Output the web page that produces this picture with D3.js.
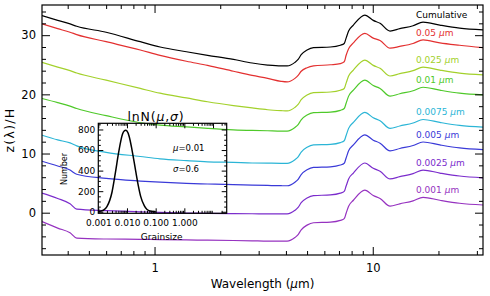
<!DOCTYPE html>
<html>
<head>
<meta charset="utf-8">
<script src="https://cdn.jsdelivr.net/npm/d3@7"></script>
<style>
  body { margin: 0; background: #fff; }
  text { font-family: "DejaVu Sans", sans-serif; fill: #000; }
  .axis line { stroke: #000; stroke-width: 1; }
  .axis .domain { display: none; }
</style>
</head>
<body>
<svg id="chart" width="490" height="296"></svg>
<script>
// wavelength grid (micron)
var wavelength = [0.305, 0.36, 0.41, 0.44, 0.6, 0.86, 1.06, 1.4, 1.75, 2.3, 2.8, 3.3, 3.8,
  4.05, 4.4, 4.55, 4.7, 5.0, 5.35, 6.4, 7.1, 7.4, 7.55, 7.75, 8.15, 9.2, 10.05, 10.8,
  12.0, 13.3, 15.3, 17.0, 20.3, 25, 32];

// z(lambda)/H per grain size (curves are offset)
var cumulative = [33.3, 32.5, 31.9, 31.5, 30.5, 28.9, 28.0, 27.2, 26.6, 25.9, 25.3, 24.95, 24.8,
  24.8, 25.4, 25.9, 26.7, 27.5, 27.9, 28.0, 28.3, 28.6, 29.5, 30.7, 31.7, 33.4, 32.5, 32.0,
  30.7, 31.1, 31.6, 32.2, 31.7, 31.2, 30.9];
var size050 = [31.9, 31.1, 30.5, 30.1, 28.9, 27.5, 26.6, 25.6, 24.9, 23.9, 23.2, 22.7, 22.2,
  22.1, 22.7, 23.2, 23.9, 24.5, 24.8, 25.0, 25.2, 25.5, 26.6, 27.7, 28.7, 30.3, 29.5, 29.1,
  27.8, 28.1, 28.6, 29.2, 28.7, 28.3, 27.9];
var size025 = [25.4, 24.6, 24.0, 23.6, 22.4, 21.0, 20.2, 19.4, 18.75, 18.1, 17.7, 17.4, 17.25,
  17.2, 17.8, 18.3, 19.1, 19.9, 20.3, 20.4, 20.7, 21.0, 21.9, 23.1, 24.1, 25.8, 24.9, 24.4,
  23.1, 23.5, 24.0, 24.6, 24.1, 23.6, 23.3];
var size010 = [19.3, 18.6, 18.0, 17.6, 16.4, 15.2, 14.8, 14.5, 14.25, 14.0, 13.9, 13.85, 13.8,
  13.8, 14.4, 14.9, 15.7, 16.5, 16.9, 17.0, 17.3, 17.6, 18.5, 19.7, 20.7, 22.4, 21.5, 21.0,
  19.7, 20.1, 20.6, 21.2, 20.7, 20.2, 19.9];
var size0075 = [13.1, 12.3, 11.8, 11.3, 10.2, 9.5, 9.1, 8.8, 8.6, 8.5, 8.4, 8.37, 8.35,
  8.35, 8.95, 9.45, 10.25, 11.05, 11.45, 11.55, 11.85, 12.15, 13.05, 14.25, 15.25, 16.95, 16.05, 15.55,
  14.25, 14.65, 15.15, 15.75, 15.25, 14.75, 14.45];
var size005 = [8.7, 7.9, 7.2, 6.5, 5.8, 5.35, 5.15, 4.95, 4.85, 4.75, 4.65, 4.6, 4.56,
  4.55, 5.15, 5.65, 6.45, 7.25, 7.65, 7.75, 8.05, 8.35, 9.25, 10.45, 11.45, 13.15, 12.25, 11.75,
  10.45, 10.85, 11.35, 11.95, 11.45, 10.95, 10.65];
var size0025 = [3.3, 2.4, 1.5, 0.6, 0.35, 0.15, 0.05, -0.05, -0.1, -0.15, -0.18, -0.2, -0.2,
  -0.2, 0.4, 0.9, 1.7, 2.5, 2.9, 3.0, 3.3, 3.6, 4.5, 5.7, 6.7, 8.4, 7.5, 7.0,
  5.7, 6.1, 6.6, 7.2, 6.7, 6.2, 5.9];
var size001 = [-1.5, -2.6, -3.4, -4.3, -4.45, -4.5, -4.55, -4.6, -4.65, -4.7, -4.75, -4.8, -4.8,
  -4.8, -4.2, -3.7, -2.9, -2.1, -1.7, -1.6, -1.3, -1.0, -0.1, 1.1, 2.1, 3.8, 2.9, 2.4,
  1.1, 1.5, 2.0, 2.6, 2.1, 1.6, 1.3];

var seriesLabels = ['Cumulative', '0.05', '0.025', '0.01', '0.0075', '0.005', '0.0025', '0.001'];
var seriesColors = ['#000000', '#e33030', '#a3d12c', '#4fc92a', '#2bb5d6', '#3a3ad8', '#7b2ccc', '#9632c0'];

// inset: log-normal grain size distribution
var grainsize = [0.001, 0.0015, 0.002, 0.003, 0.004, 0.005, 0.006, 0.007, 0.008, 0.009, 0.010,
  0.012, 0.015, 0.02, 0.025, 0.03, 0.04, 0.05, 0.07, 0.1];
var number = [3, 15, 50, 190, 390, 560, 680, 755, 785, 792, 785, 730, 600, 400, 250, 150, 60, 22, 4, 0];

var xTicks = [1, 10];
var yTicks = [0, 10, 20, 30];
var insetXTicks = [0.001, 0.01, 0.1, 1];
var insetYTicks = [0, 200, 400, 600, 800];

var svg = d3.select('#chart');
svg.append('rect').attr('width', 490).attr('height', 296).attr('fill', '#fff');

var x = d3.scaleLog().domain([0.305, 32]).range([42, 483]);
var y = d3.scaleLinear().domain([-7.15, 35.1]).range([255, 5]);

var xMinor = [];
[0.1, 1, 10].forEach(function(d) {
  for (var i = 2; i <= 9; i++) xMinor.push(d * i);
});
xMinor = xMinor.filter(function(v) { return v > 0.305 && v < 32; });
var yMinor = d3.range(-6, 36, 2).filter(function(v) { return v % 10 !== 0; });

svg.append('defs').append('clipPath').attr('id', 'plot-clip')
  .append('rect').attr('x', 42).attr('y', 5).attr('width', 441).attr('height', 250);

//curves
var series = [cumulative, size050, size025, size010, size0075, size005, size0025, size001];
var line = d3.line()
  .x(function(d) { return x(d[0]); })
  .y(function(d) { return y(d[1]); })
  .curve(d3.curveMonotoneX);

svg.append('g')
  .attr('clip-path', 'url(#plot-clip)')
  .selectAll('path')
  .data(series)
  .enter().append('path')
    .attr('fill', 'none')
    .attr('stroke', function(d, i) { return seriesColors[i]; })
    .attr('stroke-width', 1.2)
    .attr('d', function(d) { return line(d3.zip(wavelength, d)); });

//labels next to the curves
svg.append('g')
  .selectAll('text')
  .data(series)
  .enter().append('text')
    .attr('x', 416)
    .attr('y', function(d) { return y(d[d.length - 1]) - 15; })
    .attr('dominant-baseline', 'central')
    .style('font-size', '9px')
    .style('fill', function(d, i) { return seriesColors[i]; })
    .each(function(d, i) {
      var t = d3.select(this);
      if (i === 0) { t.text(seriesLabels[i]); return; }
      t.append('tspan').text(seriesLabels[i] + ' ');
      t.append('tspan').style('font-style', 'italic').text('\u03bc');
      t.append('tspan').text('m');
    });

//axes, ticks pointing inward
svg.append('g').attr('class', 'axis').attr('transform', 'translate(0,255)')
  .call(d3.axisBottom(x).tickValues(xTicks).tickSize(-8).tickPadding(9).tickFormat(d3.format('d')))
  .call(function(g) { g.selectAll('text').style('font-size', '11.5px'); });
svg.append('g').attr('class', 'axis').attr('transform', 'translate(0,255)')
  .call(d3.axisBottom(x).tickValues(xMinor).tickSize(-4).tickFormat(''));
svg.append('g').attr('class', 'axis').attr('transform', 'translate(0,5)')
  .call(d3.axisTop(x).tickValues(xTicks).tickSize(-8).tickFormat(''));
svg.append('g').attr('class', 'axis').attr('transform', 'translate(0,5)')
  .call(d3.axisTop(x).tickValues(xMinor).tickSize(-4).tickFormat(''));

svg.append('g').attr('class', 'axis').attr('transform', 'translate(42,0)')
  .call(d3.axisLeft(y).tickValues(yTicks).tickSize(-8).tickPadding(6))
  .call(function(g) { g.selectAll('text').style('font-size', '11.5px'); });
svg.append('g').attr('class', 'axis').attr('transform', 'translate(42,0)')
  .call(d3.axisLeft(y).tickValues(yMinor).tickSize(-4).tickFormat(''));
svg.append('g').attr('class', 'axis').attr('transform', 'translate(483,0)')
  .call(d3.axisRight(y).tickValues(yTicks).tickSize(-8).tickFormat(''));
svg.append('g').attr('class', 'axis').attr('transform', 'translate(483,0)')
  .call(d3.axisRight(y).tickValues(yMinor).tickSize(-4).tickFormat(''));

svg.append('rect')
  .attr('x', 42).attr('y', 5).attr('width', 441).attr('height', 250)
  .attr('fill', 'none').attr('stroke', '#000').attr('stroke-width', 1.2);

//axis titles
svg.append('text')
  .attr('x', 262.5).attr('y', 288)
  .attr('text-anchor', 'middle')
  .style('font-size', '12px')
  .call(function(t) {
    t.append('tspan').text('Wavelength (');
    t.append('tspan').style('font-style', 'italic').text('\u03bc');
    t.append('tspan').text('m)');
  });

svg.append('text')
  .attr('transform', 'translate(9,130) rotate(-90)')
  .attr('text-anchor', 'middle')
  .attr('dominant-baseline', 'central')
  .style('font-size', '12.5px')
  .style('letter-spacing', '1.3px')
  .text('z(\u03bb)/H');

//inset
var inset = svg.append('g');
var xi = d3.scaleLog().domain([0.001, 30]).range([98.3, 226.7]);
var yi = d3.scaleLinear().domain([-15, 860]).range([213.3, 123.3]);

var xiMinor = [];
[0.001, 0.01, 0.1, 1, 10].forEach(function(d) {
  for (var i = 2; i <= 9; i++) xiMinor.push(d * i);
});
xiMinor = xiMinor.filter(function(v) { return v < 30; });
var yiMinor = d3.range(50, 860, 50).filter(function(v) { return v % 200 !== 0; });

inset.append('g').attr('class', 'axis').attr('transform', 'translate(0,213.3)')
  .call(d3.axisBottom(xi).tickValues(insetXTicks).tickSize(-5).tickPadding(6).tickFormat(d3.format('.3f')))
  .call(function(g) { g.selectAll('text').style('font-size', '9px'); });
inset.append('g').attr('class', 'axis').attr('transform', 'translate(0,213.3)')
  .call(d3.axisBottom(xi).tickValues(xiMinor).tickSize(-2.5).tickFormat(''));
inset.append('g').attr('class', 'axis').attr('transform', 'translate(0,123.3)')
  .call(d3.axisTop(xi).tickValues(insetXTicks.concat([10])).tickSize(-5).tickFormat(''));
inset.append('g').attr('class', 'axis').attr('transform', 'translate(0,123.3)')
  .call(d3.axisTop(xi).tickValues(xiMinor).tickSize(-2.5).tickFormat(''));

inset.append('g').attr('class', 'axis').attr('transform', 'translate(98.3,0)')
  .call(d3.axisLeft(yi).tickValues(insetYTicks).tickSize(-5).tickPadding(3))
  .call(function(g) { g.selectAll('text').style('font-size', '9px'); });
inset.append('g').attr('class', 'axis').attr('transform', 'translate(98.3,0)')
  .call(d3.axisLeft(yi).tickValues(yiMinor).tickSize(-2.5).tickFormat(''));
inset.append('g').attr('class', 'axis').attr('transform', 'translate(226.7,0)')
  .call(d3.axisRight(yi).tickValues(insetYTicks).tickSize(-5).tickFormat(''));
inset.append('g').attr('class', 'axis').attr('transform', 'translate(226.7,0)')
  .call(d3.axisRight(yi).tickValues(yiMinor).tickSize(-2.5).tickFormat(''));

inset.append('rect')
  .attr('x', 98.3).attr('y', 123.3).attr('width', 128.4).attr('height', 90)
  .attr('fill', 'none').attr('stroke', '#000').attr('stroke-width', 1.2);

inset.append('path')
  .attr('fill', 'none')
  .attr('stroke', '#000')
  .attr('stroke-width', 1.5)
  .attr('d', d3.line()
    .x(function(d) { return xi(d[0]); })
    .y(function(d) { return yi(d[1]); })
    .curve(d3.curveMonotoneX)(d3.zip(grainsize, number)));

inset.append('text')
  .attr('x', 156).attr('y', 116)
  .attr('text-anchor', 'middle')
  .attr('dominant-baseline', 'central')
  .style('font-size', '12.5px')
  .style('letter-spacing', '0.8px')
  .call(function(t) {
    t.append('tspan').text('lnN(');
    t.append('tspan').style('font-style', 'italic').text('\u03bc');
    t.append('tspan').text(',');
    t.append('tspan').style('font-style', 'italic').text('\u03c3');
    t.append('tspan').text(')');
  });

inset.append('text')
  .attr('x', 173).attr('y', 147.5)
  .attr('dominant-baseline', 'central')
  .style('font-size', '8.5px')
  .call(function(t) {
    t.append('tspan').style('font-style', 'italic').text('\u03bc');
    t.append('tspan').text('=0.01');
  });
inset.append('text')
  .attr('x', 173).attr('y', 168.5)
  .attr('dominant-baseline', 'central')
  .style('font-size', '8.5px')
  .call(function(t) {
    t.append('tspan').style('font-style', 'italic').text('\u03c3');
    t.append('tspan').text('=0.6');
  });

inset.append('text')
  .attr('x', 161.7).attr('y', 237)
  .attr('text-anchor', 'middle')
  .attr('dominant-baseline', 'central')
  .style('font-size', '9px')
  .text('Grainsize');

inset.append('text')
  .attr('transform', 'translate(64.5,169) rotate(-90)')
  .attr('text-anchor', 'middle')
  .attr('dominant-baseline', 'central')
  .style('font-size', '8px')
  .text('Number');
</script>
</body>
</html>
